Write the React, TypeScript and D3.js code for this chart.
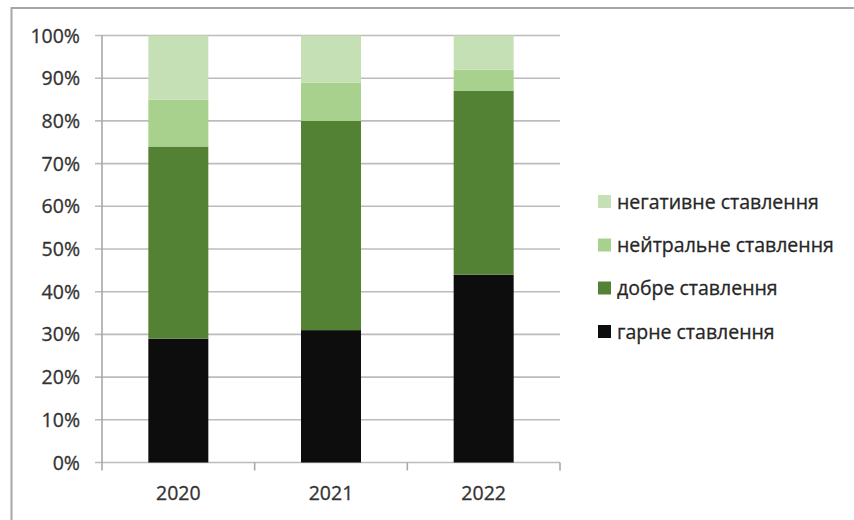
import React from "react";
import * as d3 from "d3";

const years = ["2020", "2021", "2022"];
const seriesNames = ["гарне ставлення", "добре ставлення", "нейтральне ставлення", "негативне ставлення"];
const garne = [29, 31, 44];
const dobre = [45, 49, 43];
const neitralne = [11, 9, 5];
const negatyvne = [15, 11, 8];
const colors = ["#0d0d0d", "#548235", "#a9d18e", "#c5e0b4"];
const yTicks = [0, 10, 20, 30, 40, 50, 60, 70, 80, 90, 100];

const W = 854, H = 520;
const left = 102, right = 560, top = 35.5, bottom = 462.5;
const FONT = "'Open Sans', sans-serif";

export default function App() {
  const x = d3.scaleBand<string>().domain(years).range([left, right]).paddingInner(0.607).paddingOuter(0.3035);
  const y = d3.scaleLinear().domain([0, 100]).range([bottom, top]);
  const rows = years.map((yr, i) => ({ year: yr, s0: garne[i], s1: dobre[i], s2: neitralne[i], s3: negatyvne[i] }));
  const stack = d3.stack<any>().keys(["s0", "s1", "s2", "s3"]);
  const layers = stack(rows);
  const band = (right - left) / years.length;
  const legendOrder = [3, 2, 1, 0];
  const legendY = [201.5, 245, 288, 331.5];

  return (
    <svg width={W} height={H} style={{ position: "absolute", left: 0, top: 0, background: "#fff" }}>
      <rect x={11.5} y={8} width={W + 10} height={H + 10} fill="#fff" stroke="#a6a6a6" strokeWidth={2} />
      {yTicks.map((t) => (
        <line key={"g" + t} x1={95} x2={right} y1={y(t)} y2={y(t)} stroke="#bcbcbc" strokeWidth={1.6} />
      ))}
      <line x1={left} x2={left} y1={top} y2={bottom + 8} stroke="#a8a8a8" strokeWidth={1.6} />
      {years.map((yr, i) => (
        <line key={"t" + yr} x1={left + band * (i + 1)} x2={left + band * (i + 1)} y1={bottom} y2={bottom + 8} stroke="#a8a8a8" strokeWidth={1.6} />
      ))}
      {layers.map((layer, li) => (
        <g key={"l" + li} fill={colors[li]}>
          {layer.map((d, i) => (
            <rect key={i} x={x(years[i])} width={x.bandwidth()} y={y(d[1])} height={y(d[0]) - y(d[1])} />
          ))}
        </g>
      ))}
      {yTicks.map((t) => (
        <text key={"yl" + t} x={80} y={y(t)} dy="0.36em" textAnchor="end" fontFamily={FONT} fontSize={19.5} fill="#333" stroke="#333" strokeWidth={0.3}>
          {t + "%"}
        </text>
      ))}
      {years.map((yr) => (
        <text key={"xl" + yr} x={(x(yr) as number) + x.bandwidth() / 2} y={493} dy="0.36em" textAnchor="middle" fontFamily={FONT} fontSize={19.5} fill="#333" stroke="#333" strokeWidth={0.3}>
          {yr}
        </text>
      ))}
      {legendOrder.map((si, k) => (
        <g key={"lg" + si}>
          <rect x={598} y={legendY[k] - 6.5} width={13} height={13} fill={colors[si]} />
          <text x={617} y={legendY[k]} dy="0.36em" fontFamily={FONT} fontSize={19.5} fill="#262626" stroke="#262626" strokeWidth={0.3}>
            {seriesNames[si]}
          </text>
        </g>
      ))}
    </svg>
  );
}
